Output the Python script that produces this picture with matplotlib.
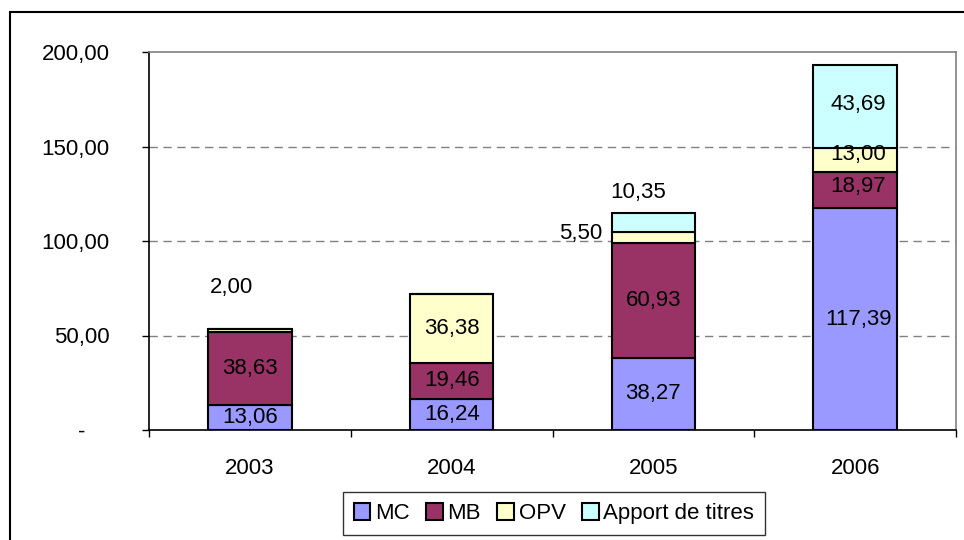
import numpy as np
import matplotlib.pyplot as plt
from matplotlib.patches import Rectangle

plt.rcParams['font.family'] = ['Liberation Sans', 'DejaVu Sans']

# data
years = ['2003', '2004', '2005', '2006']
mc = [13.06, 16.24, 38.27, 117.39]
mb = [38.63, 19.46, 60.93, 18.97]
opv = [2.00, 36.38, 5.50, 13.00]
apport = [0.00, 0.00, 10.35, 43.69]

series = [('MC', mc, '#9999FF'), ('MB', mb, '#993366'),
          ('OPV', opv, '#FFFFCC'), ('Apport de titres', apport, '#CCFFFF')]

# label nudges in pixels for small segments (series index, year index) -> (dx, dy)
nudge = {(2, 0): (-18, 43), (2, 2): (-73, 4), (3, 2): (-15, 30),
         (2, 3): (3, 5), (1, 3): (3, 4), (0, 3): (3, 0), (3, 3): (3, 2)}

FS = 16

fig = plt.figure(figsize=(9.64, 5.40), dpi=100)
ax = fig.add_axes([149/964, 1-430/540, (956-149)/964, (430-52)/540])

x = np.arange(len(years))
bottom = np.zeros(len(years))
for si, (name, vals, col) in enumerate(series):
    vals = np.array(vals)
    ax.bar(x, vals, 0.415, bottom=bottom, color=col, edgecolor='black',
           linewidth=1.5, label=name, zorder=3)
    for i, v in enumerate(vals):
        if v <= 0:
            continue
        dx, dy = nudge.get((si, i), (0, 0))
        ax.annotate(f'{v:.2f}'.replace('.', ','), (x[i], bottom[i] + v/2),
                    xytext=(dx*0.72, dy*0.72), textcoords='offset points',
                    ha='center', va='center', fontsize=FS, zorder=4)
    bottom += vals

ax.set_xlim(-0.5, 3.5)
ax.set_ylim(0, 200)
ax.set_yticks([0, 50, 100, 150, 200])
ax.set_yticklabels(['-    ', '50,00', '100,00', '150,00', '200,00'], fontsize=FS)
ax.set_xticks(x)
ax.set_xticklabels(years, fontsize=FS)
ax.set_xticks(np.arange(-0.5, 4, 1), minor=True)
ax.tick_params(axis='x', which='major', length=0, pad=20)
ax.tick_params(axis='x', which='minor', length=5, width=1, direction='out')
ax.tick_params(axis='y', length=5, width=1, direction='out', pad=23.5)

for v in [50, 100, 150]:
    ax.axhline(v, color='#808080', linestyle=(0, (6, 4)), linewidth=1, zorder=1)

ax.spines['top'].set_color('#808080')
ax.spines['right'].set_color('#808080')
ax.spines['left'].set_color('black')
ax.spines['bottom'].set_color('black')
for s in ax.spines.values():
    s.set_linewidth(1.2)

leg = fig.legend(loc='upper center', bbox_to_anchor=(554/964, 1-492/540), ncol=4,
                 fontsize=FS, frameon=True, fancybox=False, handlelength=0.75,
                 handleheight=0.75, handletextpad=0.2, columnspacing=0.75,
                 borderpad=0.5, borderaxespad=0)
leg.get_frame().set_edgecolor('black')
leg.get_frame().set_linewidth(1)

fig.patches.append(Rectangle((10/964, -0.1), 1.0, 1-12/540+0.1, transform=fig.transFigure,
                             fill=False, edgecolor='black', linewidth=1.5))

fig.savefig('out.png', dpi=100)
